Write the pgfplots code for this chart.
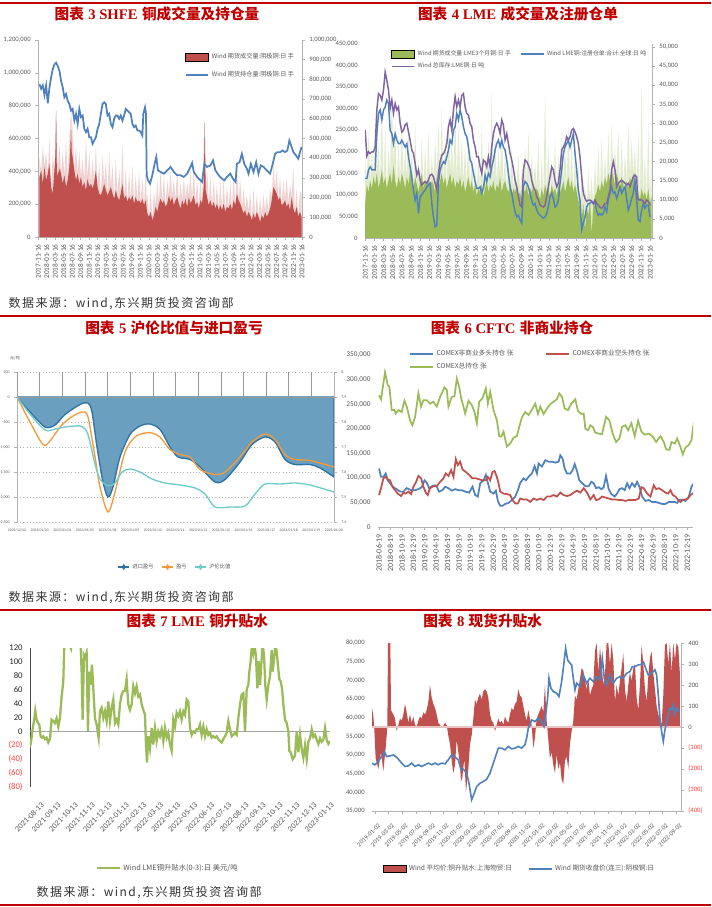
\documentclass[border=0pt]{standalone}
\usepackage{pgfplots}
\pgfplotsset{compat=1.18}
\usepackage{fontspec}
\setmainfont{Carlito}
\newfontfamily\cjk{Noto Sans CJK SC}
\newfontfamily\cjksp{Noto Sans CJK SC}[LetterSpace=12]
\newfontfamily\tnr{Liberation Serif}
\definecolor{tred}{HTML}{C00000}
\definecolor{tgray}{HTML}{595959}
\definecolor{negred}{HTML}{FF4040}
\definecolor{xred}{HTML}{C0504D}
\definecolor{xblue}{HTML}{4F81BD}
\definecolor{xgreen}{HTML}{9BBB59}
\definecolor{xpurple}{HTML}{8064A2}
\definecolor{p3fill}{HTML}{6A9FC0}
\definecolor{p3line}{HTML}{2F72A3}
\definecolor{p3orange}{HTML}{F39B3A}
\definecolor{p3teal}{HTML}{6FCBC9}
\newcommand{\ttl}[3]{{\cjk\bfseries #1}\hspace{0.3em}{\tnr\bfseries #2}\hspace{0.3em}{\cjk\bfseries #3}}
\newcommand{\src}{{\cjksp 数据来源：wind,东兴期货投资咨询部}}
\pgfplotsset{
  base/.style={scale only axis, anchor=south west,
    /pgf/number format/fixed,
    /pgf/number format/assume math mode=true,
    /pgf/number format/1000 sep={,},
    scaled ticks=false, tick align=outside, major tick length=2pt,
    every tick/.style={gray!60, line width=0.4pt},
    axis line style={gray!60, line width=0.5pt},
    tick label style={text=tgray},
    legend cell align=left},
}
\begin{document}
\begin{tikzpicture}
\useasboundingbox (0,0) rectangle (533.25pt,-680.25pt);
\fill[white] (0,0) rectangle (533.25pt,-680.25pt);
% separators
\draw[tred, line width=1.5pt] (0,-2.25pt) -- (533.25pt,-2.25pt);
\draw[tred, line width=1.5pt] (0,-237pt) -- (533.25pt,-237pt);
\draw[tred, line width=1.5pt] (0,-457.5pt) -- (533.25pt,-457.5pt);
\draw[tred, line width=1.5pt] (0,-678.5pt) -- (533.25pt,-678.5pt);
% titles
\node[tred, font=\fontsize{11}{12}\selectfont] at (117.75pt,-10.5pt) {\ttl{图表}{3 SHFE}{铜成交量及持仓量}};
\node[tred, font=\fontsize{11}{12}\selectfont] at (388.5pt,-10.5pt) {\ttl{图表}{4 LME}{成交量及注册仓单}};
\node[tred, font=\fontsize{11}{12}\selectfont] at (130.5pt,-246pt) {\ttl{图表}{5}{沪伦比值与进口盈亏}};
\node[tred, font=\fontsize{11}{12}\selectfont] at (384pt,-246pt) {\ttl{图表}{6 CFTC}{非商业持仓}};
\node[tred, font=\fontsize{11}{12}\selectfont] at (148pt,-465.75pt) {\ttl{图表}{7 LME}{铜升贴水}};
\node[tred, font=\fontsize{11}{12}\selectfont] at (362pt,-465.75pt) {\ttl{图表}{8}{现货升贴水}};
% sources
\node[anchor=west, font=\fontsize{9}{10}\selectfont, text=black!80] at (3pt,-228pt) {\src};
\node[anchor=west, font=\fontsize{9}{10}\selectfont, text=black!80] at (3pt,-448.5pt) {\src};
\node[anchor=west, font=\fontsize{9}{10}\selectfont, text=black!80] at (24pt,-669.75pt) {\src};

%================ PANEL 1 =================
\begin{axis}[base, at={(28.5pt,-177.75pt)}, width=198pt, height=147.75pt,
  xmin=-0.02, xmax=31, ymin=0, ymax=1200000,
  axis x line*=bottom, axis y line*=left,
  ytick={0,200000,400000,600000,800000,1000000,1200000},
  xtick={0,...,31},
  xticklabels={2017-11-16,2018-01-16,2018-03-16,2018-05-16,2018-07-16,2018-09-16,2018-11-16,2019-01-16,2019-03-16,2019-05-16,2019-07-16,2019-09-16,2019-11-16,2020-01-16,2020-03-16,2020-05-16,2020-07-16,2020-09-16,2020-11-16,2021-01-16,2021-03-16,2021-05-16,2021-07-16,2021-09-16,2021-11-16,2022-01-16,2022-03-16,2022-05-16,2022-07-16,2022-09-16,2022-11-16,2023-01-16},
  xticklabel style={rotate=90, anchor=east, font=\fontsize{5.5}{6}\selectfont},
  yticklabel style={font=\fontsize{5}{6}\selectfont},
  legend style={at={(0.54,0.96)}, anchor=north west, draw=none, fill=none,
     font=\cjk\fontsize{4.6}{6}\selectfont, text=tgray, row sep=4pt},
]
\addplot[fill=xred!25, draw=none, forget plot] table[x expr=(\thisrow{x}/3-37)/8.55, y expr=\thisrow{y}*1000] {
x y
115 480
120 400
125 560
130 430
135 520
140 390
145 600
150 310
155 500
160 400
165 800
170 420
175 560
180 390
185 520
190 380
195 600
200 350
205 650
208 430
210 900
212 500
215 700
220 410
225 560
230 390
235 520
240 370
245 480
250 340
255 600
260 360
265 520
270 330
275 480
280 340
285 560
290 310
295 450
300 260
305 500
310 330
315 460
320 260
325 520
330 310
335 440
340 240
345 480
350 250
355 420
360 270
365 560
370 240
375 420
380 220
385 400
390 230
395 440
400 210
405 380
410 220
415 400
420 210
425 360
430 200
435 400
438 230
440 260
445 130
450 300
455 110
460 280
465 190
470 340
475 210
480 420
485 210
490 380
495 190
500 350
505 260
510 400
515 250
520 350
525 230
530 420
535 210
540 330
545 230
550 360
555 240
560 330
565 250
570 400
575 230
580 430
585 200
590 360
595 180
600 380
605 210
612 720
616 290
620 420
625 200
630 380
635 190
640 350
645 180
650 330
655 170
660 340
665 170
670 360
675 160
680 320
685 180
690 340
695 170
700 380
705 200
710 420
715 230
720 350
725 180
730 300
735 170
740 260
745 160
750 280
755 110
760 300
765 120
770 260
775 130
780 240
785 140
790 260
795 160
800 250
805 150
810 300
815 230
820 450
825 290
830 420
835 230
840 380
845 200
850 350
855 230
860 360
865 210
870 320
875 250
880 420
885 150
890 300
895 130
900 280
905 260
} \closedcycle;
\addplot[fill=xred, draw=none, area legend] table[x expr=(\thisrow{x}/3-37)/8.55, y expr=\thisrow{y}*1000] {
x y
115 366
120 406
125 325
130 427
135 345
140 386
145 446
150 305
155 264
160 406
163 500
165 770
167 450
168 366
175 416
180 386
185 325
190 376
195 305
200 345
205 427
208 550
210 720
212 520
215 487
220 406
225 345
230 386
235 325
240 366
245 305
250 335
255 285
260 355
265 305
270 325
275 295
280 335
285 406
290 305
295 264
300 254
305 285
310 325
315 285
320 254
325 275
330 305
335 264
340 234
345 285
350 244
355 224
360 264
365 325
370 234
375 254
380 214
385 244
390 224
395 254
400 204
405 244
410 214
415 224
420 204
425 234
430 194
435 224
440 143
445 123
450 153
455 103
460 133
465 184
470 153
475 204
480 234
485 204
490 224
495 184
500 204
505 254
510 214
515 244
520 194
525 224
530 244
535 204
540 173
545 224
550 194
555 234
560 184
565 244
570 204
575 224
580 254
585 194
590 214
595 173
600 224
605 204
610 305
613 699
616 285
620 244
625 194
630 224
635 184
640 214
645 173
650 204
655 163
660 194
665 163
670 204
675 153
680 184
685 173
690 204
695 163
700 224
705 194
710 264
715 224
720 204
725 173
730 143
735 163
740 123
745 153
750 133
755 103
760 143
765 113
770 153
775 123
780 93
785 133
790 113
795 153
800 123
805 143
810 173
815 224
820 305
825 285
830 264
835 224
840 244
845 194
850 204
855 224
860 184
865 204
870 163
875 244
880 173
885 143
890 184
895 123
900 153
905 123
} \closedcycle;
\addlegendentry{Wind 期货成交量:阴极铜:日 手}
\addplot[xblue, line width=1.3pt] table[x expr=(\thisrow{x}/3-37)/8.55, y expr=\thisrow{y}*1000] {
x y
115 931
120 903
125 923
130 865
135 923
140 814
145 910
150 972
155 1022
160 1052
165 1062
170 1042
175 1012
180 952
185 911
190 851
195 871
200 830
205 810
210 770
215 780
220 709
225 750
230 689
235 780
240 730
245 740
250 659
255 639
260 659
265 608
270 608
275 568
280 588
285 608
290 659
295 689
300 750
305 810
310 820
315 810
320 740
325 750
330 689
335 669
340 720
345 740
350 740
355 720
360 740
365 709
370 740
375 780
380 770
385 760
390 750
395 689
400 669
405 679
410 649
415 649
420 639
425 618
428 750
433 790
436 750
438 376
442 345
448 325
455 376
462 446
467 487
472 406
480 396
490 386
500 406
510 427
520 396
530 376
540 376
550 366
560 386
570 427
575 451
580 396
590 366
600 345
605 335
612 446
620 427
630 436
638 467
645 406
655 376
665 355
672 345
680 366
690 386
698 355
706 335
710 446
718 456
725 507
732 446
740 416
745 386
752 446
760 396
768 456
775 386
782 436
790 427
800 406
810 386
818 446
825 507
832 517
840 517
848 527
855 517
862 527
868 588
875 548
880 517
888 497
895 477
900 517
905 548
};
\addlegendentry{Wind 期货持仓量:阴极铜:日 手}
\end{axis}
\begin{axis}[base, at={(28.5pt,-177.75pt)}, width=198pt, height=147.75pt,
  xmin=-0.02, xmax=31, ymin=0, ymax=1000000,
  axis y line*=right, axis x line=none,
  ytick={0,100000,200000,300000,400000,500000,600000,700000,800000,900000,1000000},
  yticklabel style={font=\fontsize{5}{6}\selectfont}]
\end{axis}

%================ PANEL 2 =================
\begin{axis}[base, at={(273.75pt,-178.5pt)}, width=215.25pt, height=145.5pt,
  xmin=-0.02, xmax=31.2, ymin=0, ymax=50785,
  axis y line*=right, axis x line=none,
  ytick={0,5000,10000,15000,20000,25000,30000,35000,40000,45000,50000},
  yticklabel style={font=\fontsize{5}{6}\selectfont}]
\addplot[fill=xgreen!30, draw=none] table[x expr=(\thisrow{x}/3-10)/9.2, y expr=\thisrow{y}*1000] {
x y
30 20
35 14
40 28
45 15
50 22
55 16
60 30
65 17
70 25
75 15
80 35
85 14
90 28
95 13
100 24
105 17
110 38
115 19
120 30
125 13
130 26
135 14
140 32
145 15
150 24
155 16
160 28
165 18
170 22
175 13
180 30
185 14
190 20
195 15
200 26
205 13
210 24
215 14
220 28
225 13
230 22
235 14
240 26
245 16
250 30
255 15
260 34
265 14
270 28
275 13
280 32
285 17
290 26
295 16
300 36
305 15
310 30
315 16
320 26
325 15
330 24
335 14
340 28
345 13
350 22
355 12
360 20
365 11
370 24
375 12
380 30
385 11
390 22
395 15
400 26
405 14
410 38
415 15
420 28
425 14
430 24
435 16
440 30
445 14
450 22
455 13
460 20
465 14
470 24
475 13
480 18
485 14
490 22
495 12
500 18
505 13
510 24
515 14
520 28
525 13
530 22
535 14
540 20
545 13
550 26
555 10
560 22
565 11
570 38
575 12
580 24
585 11
590 20
595 12
600 26
605 11
610 22
615 12
620 28
625 15
630 24
635 14
640 30
645 13
650 26
655 12
660 22
665 12
670 20
675 8
680 16
685 9
690 14
695 8
700 18
705 10
710 16
715 9
720 20
725 12
730 24
735 12
740 26
745 13
750 22
755 14
760 28
765 15
770 30
775 16
780 24
785 17
790 28
795 13
800 26
805 14
810 22
815 15
820 30
825 16
830 26
835 17
840 24
845 13
850 28
855 10
860 40
865 11
870 22
875 10
880 30
885 9
890 24
} \closedcycle;
\addplot[fill=xgreen, draw=none] table[x expr=(\thisrow{x}/3-10)/9.2, y expr=\thisrow{y}*1000] {
x y
30 9
35 14
40 12
45 15
50 13
55 16
60 14
65 17
70 13
75 15
80 18
85 14
90 16
95 13
100 15
105 17
110 14
115 19
120 15
125 13
130 16
135 14
140 17
145 15
150 13
155 16
160 14
165 18
170 15
175 13
180 16
185 14
190 12
195 15
200 17
205 13
210 15
215 14
220 16
225 13
230 15
235 14
240 12
245 16
250 13
255 15
260 17
265 14
270 16
275 13
280 15
285 17
290 14
295 16
300 13
305 15
310 14
315 16
320 13
325 15
330 12
335 14
340 16
345 13
350 15
355 12
360 14
365 11
370 13
375 12
380 14
385 11
390 13
395 15
400 12
405 14
410 13
415 15
420 12
425 14
430 13
435 16
440 12
445 14
450 15
455 13
460 12
465 14
470 11
475 13
480 12
485 14
490 11
495 12
500 10
505 13
510 12
515 14
520 11
525 13
530 12
535 14
540 11
545 13
550 12
555 10
560 13
565 11
570 14
575 12
580 13
585 11
590 14
595 12
600 13
605 11
610 14
615 12
620 13
625 15
630 12
635 14
640 16
645 13
650 15
655 12
660 14
665 12
670 10
675 8
680 5
685 9
690 2
695 8
700 6
705 10
710 1
715 9
720 11
725 12
730 14
735 12
740 15
745 13
750 16
755 14
760 17
765 15
770 18
775 16
780 14
785 17
790 15
795 13
800 16
805 14
810 12
815 15
820 13
825 16
830 14
835 17
840 15
845 13
850 12
855 10
860 13
865 11
870 12
875 10
880 13
885 9
890 11
} \closedcycle;
\end{axis}
\begin{axis}[base, at={(273.75pt,-178.5pt)}, width=215.25pt, height=145.5pt,
  xmin=-0.02, xmax=31.2, ymin=0, ymax=450000,
  axis x line*=bottom, axis y line*=left,
  y axis line style={draw=none}, ytick style={draw=none},
  ytick={0,50000,100000,150000,200000,250000,300000,350000,400000,450000},
  xtick={0,...,31},
  xticklabels={2017-11-16,2018-01-16,2018-03-16,2018-05-16,2018-07-16,2018-09-16,2018-11-16,2019-01-16,2019-03-16,2019-05-16,2019-07-16,2019-09-16,2019-11-16,2020-01-16,2020-03-16,2020-05-16,2020-07-16,2020-09-16,2020-11-16,2021-01-16,2021-03-16,2021-05-16,2021-07-16,2021-09-16,2021-11-16,2022-01-16,2022-03-16,2022-05-16,2022-07-16,2022-09-16,2022-11-16,2023-01-16},
  xticklabel style={rotate=90, anchor=east, font=\fontsize{5.5}{6}\selectfont},
  yticklabel style={font=\fontsize{5}{6}\selectfont},
  legend columns=2,
  legend style={at={(0.075,0.995)}, anchor=north west, draw=none, fill=none,
     font=\cjk\fontsize{4.4}{5.5}\selectfont, text=tgray, /tikz/every even column/.append style={column sep=5pt}},
]
\addlegendimage{area legend, fill=xgreen, draw=none}
\addlegendentry{Wind 期货成交量:LME3个月铜:日 手}
\addplot[xblue, line width=1.1pt] table[x expr=(\thisrow{x}/3-10)/9.2, y expr=\thisrow{y}*1000] {
x y
30 138
35 138
40 158
45 165
50 158
55 158
60 158
65 242
70 289
75 297
80 274
85 297
90 304
95 320
100 312
105 250
110 242
115 219
120 242
125 227
130 219
135 219
140 227
145 219
150 211
155 219
160 188
165 165
170 142
175 111
180 88
185 104
190 57
195 96
200 100
205 107
210 111
215 119
220 123
225 127
230 80
235 49
240 26
245 30
250 127
255 158
260 169
265 177
270 173
275 188
280 204
285 227
290 219
295 250
300 258
305 289
310 274
315 297
320 281
325 258
330 242
335 235
340 211
345 181
350 173
355 150
360 131
365 115
370 115
375 119
380 104
385 115
390 146
395 131
400 150
405 142
410 165
415 181
420 204
425 219
430 227
435 211
440 227
445 211
450 204
455 181
460 150
465 119
470 104
475 80
480 61
485 49
490 53
495 42
500 34
505 119
510 131
515 127
520 119
525 104
530 88
535 76
540 80
545 65
550 57
555 53
560 49
565 46
570 49
575 57
580 72
585 96
590 104
595 92
600 72
605 76
610 88
615 127
620 158
625 196
630 211
635 219
640 227
645 211
650 227
655 242
660 196
665 158
670 111
675 88
680 19
685 34
690 49
695 72
700 80
705 80
710 85
715 80
720 85
725 61
730 53
735 57
740 53
745 57
750 72
755 61
760 88
765 104
770 119
775 104
780 107
785 92
790 104
795 119
800 104
805 111
810 119
815 92
820 65
825 76
830 92
835 104
840 134
845 88
850 42
855 38
860 65
865 80
870 69
875 76
880 76
885 49
};
\addlegendentry{Wind LME铜:注册仓单:合计:全球:日 吨}
\addplot[xpurple, line width=1.1pt] table[x expr=(\thisrow{x}/3-10)/9.2, y expr=\thisrow{y}*1000] {
x y
30 250
35 190
40 200
45 196
50 200
55 200
60 211
65 297
70 335
75 331
80 320
85 343
90 385
95 366
100 343
105 301
110 320
115 289
120 312
125 297
130 304
135 266
140 246
145 250
150 262
155 266
160 246
165 227
170 204
175 196
180 173
185 146
190 158
195 134
200 123
205 127
210 131
215 127
220 134
225 146
230 148
235 142
240 127
245 111
250 150
255 177
260 192
265 196
270 204
275 219
280 258
285 274
290 250
295 297
300 328
305 304
310 320
315 304
320 331
325 335
330 304
335 289
340 285
345 266
350 258
355 227
360 211
365 188
370 188
375 165
380 150
385 181
390 177
395 165
400 188
405 165
410 211
415 242
420 258
425 266
430 258
435 242
440 274
445 262
450 227
455 242
460 219
465 196
470 181
475 161
480 134
485 119
490 96
495 76
500 72
505 158
510 181
515 177
520 169
525 158
530 134
535 119
540 111
545 96
550 88
555 76
560 74
565 72
570 76
575 96
580 119
585 142
590 165
595 158
600 134
605 119
610 127
615 158
620 204
625 211
630 219
635 235
640 227
645 235
650 250
655 254
660 246
665 235
670 219
675 188
680 142
685 104
690 92
695 85
700 88
705 88
710 85
715 80
720 88
725 80
730 76
735 71
740 69
745 74
750 80
755 80
760 96
765 111
770 158
775 177
780 158
785 119
790 127
795 131
800 134
805 131
810 127
815 123
820 127
825 119
830 131
835 142
840 146
845 142
848 92
852 88
858 89
865 85
870 80
875 88
880 85
885 76
};
\addlegendentry{Wind 总库存:LME铜:日 吨}
\end{axis}

%================ PANEL 3 =================
\begin{axis}[base, at={(12.75pt,-391.5pt)}, width=237.75pt, height=112.5pt,
  xmin=0, xmax=14, ymin=-2500, ymax=500,
  axis x line*=bottom, axis y line*=left,
  x axis line style={draw=none}, xtick style={draw=none},
  ytick={-2500,-2000,-1500,-1000,-500,0,500},
  ymajorgrids, major grid style={dotted, gray!60},
  xtick={0,...,14},
  xticklabels={2022/12/30,2023/01/03,2023/01/04,2023/01/05,2023/01/06,2023/01/09,2023/01/10,2023/01/11,2023/01/12,2023/01/13,2023/01/16,2023/01/17,2023/01/18,2023/01/19,2023/01/20},
  xticklabel style={font=\fontsize{2.8}{3}\selectfont},
  yticklabel style={font=\fontsize{3}{3.5}\selectfont},
  legend columns=3,
  legend style={at={(0.5,-0.3)}, anchor=center, draw=none, fill=none,
     font=\cjk\fontsize{4}{5}\selectfont, text=tgray, /tikz/every even column/.append style={column sep=4pt}},
  legend image code/.code={\draw[#1] (0pt,0pt) -- (8pt,0pt); \draw[#1, mark=diamond*, mark size=1.6pt] plot coordinates {(4pt,0pt)};},
]
\addlegendimage{p3line, line width=0.8pt, fill=p3line}
\addlegendentry{进口盈亏}
\addlegendimage{p3orange, line width=0.8pt, fill=p3orange}
\addlegendentry{盈亏}
\addlegendimage{p3teal, line width=0.8pt, fill=p3teal}
\addlegendentry{沪伦比值}
\addplot[fill=p3fill, draw=p3line, line width=1pt, smooth, forget plot] table[x expr=(\thisrow{x}-17)/22.64, y=y] {
x y
17 0
30 -300
45 -600
55 -560
65 -350
80 -150
88 -120
92 -300
97 -1000
103 -1700
108 -2000
113 -1800
120 -1200
130 -750
140 -580
150 -540
160 -650
170 -1000
178 -1200
190 -1250
200 -1400
215 -1700
225 -1650
240 -1300
252 -950
265 -800
275 -900
285 -1250
295 -1350
310 -1350
320 -1420
334 -1600
} \closedcycle;
\addplot[p3orange, line width=1pt, smooth, forget plot] table[x expr=(\thisrow{x}-17)/22.64, y=y] {
x y
17 0
30 -500
43 -950
50 -880
60 -600
70 -420
82 -300
88 -400
95 -1200
100 -1800
108 -2300
115 -1900
125 -1100
135 -800
145 -720
152 -720
160 -800
170 -1050
180 -1150
190 -1200
200 -1450
215 -1550
225 -1500
240 -1200
252 -900
265 -740
275 -850
285 -1150
295 -1250
310 -1270
334 -1400
};
\draw[gray!80, line width=0.6pt] (axis cs:0,0) -- (axis cs:14,0);
\pgfplotsinvokeforeach{0,...,14}{\draw[gray!80, line width=0.4pt] (axis cs:#1,0) -- ++(0,1.5pt);}
\end{axis}
\begin{axis}[base, at={(12.75pt,-391.5pt)}, width=237.75pt, height=112.5pt,
  xmin=0, xmax=14, ymin=7.4, ymax=8.0,
  axis y line*=right, axis x line=none,
  ytick={7.4,7.5,7.6,7.7,7.8,7.9,8.0},
  yticklabel style={font=\fontsize{3}{3.5}\selectfont}]
\addplot[p3teal, line width=1pt, smooth] table[x expr=(\thisrow{x}-17)/22.64, y=y] {
x y
17 7.9
30 7.832
45 7.768
55 7.772
65 7.78
75 7.784
82 7.782
88 7.75
95 7.632
100 7.572
108 7.544
115 7.556
122 7.6
130 7.612
140 7.6
152 7.572
165 7.556
180 7.548
195 7.536
205 7.512
215 7.46
230 7.46
245 7.464
255 7.512
265 7.552
280 7.552
295 7.556
310 7.548
334 7.52
};
\end{axis}
\node[font=\cjk\fontsize{3}{4}\selectfont, text=tgray] at (11.25pt,-268.5pt) {元/吨};

%================ PANEL 4 =================
\begin{axis}[base, at={(283.5pt,-395.25pt)}, width=236.25pt, height=129pt,
  xmin=-0.09, xmax=27.5, ymin=0, ymax=350000,
  axis x line*=bottom, axis y line*=left,
  y axis line style={draw=none}, ytick style={draw=none},
  ytick={0,50000,100000,150000,200000,250000,300000,350000},
  xtick={0,...,27},
  xticklabels={2018-06-19,2018-08-19,2018-10-19,2018-12-19,2019-02-19,2019-04-19,2019-06-19,2019-08-19,2019-10-19,2019-12-19,2020-02-19,2020-04-19,2020-06-19,2020-08-19,2020-10-19,2020-12-19,2021-02-19,2021-04-19,2021-06-19,2021-08-19,2021-10-19,2021-12-19,2022-02-19,2022-04-19,2022-06-19,2022-08-19,2022-10-19,2022-12-19},
  xticklabel style={rotate=90, anchor=east, font=\fontsize{6}{7}\selectfont},
  yticklabel style={font=\fontsize{5.5}{6}\selectfont},
  legend columns=2,
  legend style={at={(0.086,1.06)}, anchor=north west, draw=none, fill=none,
     font=\cjk\fontsize{5}{6.5}\selectfont, text=tgray, /tikz/every even column/.append style={column sep=22pt}},
]
\addplot[xblue, line width=1.3pt] table[x expr=(\thisrow{x}-72)/34.2, y expr=\thisrow{y}*1000] {
x y
72 119
78 102
85 102
92 109
98 95
105 89
115 81
125 77
135 72
145 72
155 79
162 77
170 74
180 75
190 77
200 81
208 95
215 90
222 79
230 83
240 85
245 82
252 72
262 75
270 82
280 79
290 74
300 77
310 75
320 75
330 72
342 70
352 82
360 65
368 62
375 89
385 95
392 106
398 90
405 72
415 68
422 74
428 53
435 43
442 43
450 47
460 49
470 55
480 62
488 75
495 90
505 99
512 95
520 102
530 109
538 124
545 109
550 129
560 123
570 136
580 133
590 133
600 131
610 133
615 146
622 139
628 119
635 109
645 109
652 116
658 128
665 114
672 95
680 90
690 83
700 83
708 92
715 89
722 79
730 81
738 77
745 81
752 104
760 77
768 67
778 62
785 68
792 77
800 79
808 75
815 89
822 79
830 89
838 82
845 92
852 82
860 62
870 53
880 55
890 51
900 51
910 49
920 47
930 47
940 51
950 51
958 51
965 49
972 55
980 56
990 53
1000 62
1008 82
1015 89
};
\addlegendentry{COMEX非商业多头持仓 张}
\addplot[xred, line width=1.3pt] table[x expr=(\thisrow{x}-72)/34.2, y expr=\thisrow{y}*1000] {
x y
72 65
78 79
85 99
92 102
98 97
105 95
112 82
120 75
128 68
138 63
145 70
152 68
160 72
168 67
175 82
182 90
190 104
198 99
205 82
212 70
218 65
225 79
235 83
245 83
255 92
265 99
272 109
280 104
288 116
295 102
302 138
308 126
315 133
322 117
332 112
342 106
352 99
362 99
372 97
382 95
392 95
398 102
405 95
412 112
418 114
425 102
430 89
435 72
445 68
455 67
465 65
472 55
480 48
488 48
495 58
505 56
515 56
525 51
535 58
545 55
555 58
565 55
575 62
585 62
595 65
605 62
615 70
625 65
635 63
645 65
655 70
665 74
675 70
685 79
695 70
705 56
715 65
722 55
730 56
740 62
750 60
760 58
770 56
780 56
790 55
800 55
810 53
820 55
830 55
840 55
850 58
858 81
865 79
875 68
885 62
895 85
902 77
910 79
920 75
930 70
938 68
945 75
952 65
960 62
968 55
975 51
982 55
990 56
998 58
1005 65
1015 70
};
\addlegendentry{COMEX非商业空头持仓 张}
\addplot[xgreen, line width=1.3pt] table[x expr=(\thisrow{x}-72)/34.2, y expr=\thisrow{y}*1000] {
x y
72 268
78 260
90 315
98 289
103 285
110 238
118 238
122 231
130 238
140 234
148 257
155 245
165 217
172 207
180 224
190 272
198 245
205 258
215 258
225 251
235 255
245 245
255 265
268 284
275 279
280 245
290 265
298 266
305 302
312 285
318 262
325 245
330 231
340 257
350 248
358 234
365 211
372 255
382 262
392 282
398 251
405 275
415 238
425 217
432 185
438 184
445 194
455 164
465 170
475 182
485 185
492 204
500 223
510 234
520 228
530 239
540 251
548 230
555 245
565 230
575 241
585 250
595 255
605 260
612 272
620 265
628 241
638 238
648 251
660 260
668 236
678 230
685 231
690 200
698 197
705 207
712 204
720 192
730 190
740 189
752 224
762 217
772 190
782 173
792 180
800 204
810 207
818 197
828 211
838 185
848 216
858 194
868 188
880 190
892 184
902 173
915 185
925 173
932 158
942 157
948 173
958 170
965 180
975 163
982 148
990 162
1000 167
1008 177
1015 214
};
\addlegendentry{COMEX总持仓 张}
\end{axis}

%================ PANEL 5 =================
\begin{axis}[base, at={(22.5pt,-590.25pt)}, width=225pt, height=104.25pt,
  xmin=-0.29, xmax=17.29, ymin=-80, ymax=120,
  axis x line*=bottom, axis y line*=left,
  x axis line style={draw=none}, xtick style={draw=none}, ytick style={draw=none},
  y axis line style={black!70, line width=0.6pt},
  ytick={-80,-60,-40,-20,0,20,40,60,80,100,120},
  yticklabels={\textcolor{negred}{(80)},\textcolor{negred}{(60)},\textcolor{negred}{(40)},\textcolor{negred}{(20)},0,20,40,60,80,100,120},
  xtick={0,...,17},
  xticklabels={2021-08-13,2021-09-13,2021-10-13,2021-11-13,2021-12-13,2022-01-13,2022-02-13,2022-03-13,2022-04-13,2022-05-13,2022-06-13,2022-07-13,2022-08-13,2022-09-13,2022-10-13,2022-11-13,2022-12-13,2023-01-13},
  xticklabel style={rotate=45, anchor=north east, font=\fontsize{6}{7}\selectfont, yshift=-6pt},
  yticklabel style={font=\fontsize{6.5}{7}\selectfont, text=black!85},
  legend style={at={(0.46,-0.583)}, anchor=center, draw=none, fill=none,
     font=\cjk\fontsize{5.5}{6.5}\selectfont, text=tgray},
]
\draw[gray!70, line width=0.8pt] (axis cs:-0.29,0) -- (axis cs:17.29,0);
\addplot[xgreen, line width=1.7pt] table[x expr=(\thisrow{x}/3-35)/17.06, y=y] {
x y
88 -23.5
92 -18.7
95 -9
98 3
102 15
106 30
110 17
114 12
118 10
122 -7
126 -9
130 -7
135 -11
140 -9
145 -16
150 -11
155 17
160 15
165 12
170 19
175 7
180 19
185 50
190 72
193 125
198 160
205 150
210 122
213 119
218 150
230 150
240 150
245 86
248 17
252 110
256 106
260 113
264 0
268 86
272 67
276 96
280 62
285 19
290 10
296 -9
300 29
305 34
310 19
315 29
320 15
325 43
330 15
335 34
340 46
345 12
350 17
355 10
360 39
365 53
370 58
375 58
380 75
385 39
390 31
395 39
400 65
405 55
410 65
415 50
420 53
425 39
430 31
435 24
438 -19
441 -45
445 -7
450 -24
455 5
460 -19
465 5
470 -14
475 0
480 -7
485 3
490 -14
495 5
500 -9
505 -2
510 -19
515 -28
520 17
525 7
530 27
535 22
540 29
545 17
550 29
555 24
560 46
565 43
570 5
575 -5
580 0
585 -2
590 3
595 3
600 10
605 -5
610 7
615 -7
620 3
625 -5
630 -2
635 -9
640 -7
645 -9
650 -7
655 -11
660 -14
665 -16
670 -11
675 -7
680 -2
685 15
690 3
695 -7
700 -5
705 -2
710 -5
715 19
720 39
725 53
730 55
735 0
740 60
745 67
748 86
752 101
756 125
760 113
764 125
768 106
772 62
776 101
780 67
784 98
788 125
792 110
796 65
800 46
805 67
810 79
815 117
818 86
822 103
826 125
830 115
834 94
838 75
842 72
846 62
850 39
855 17
860 12
865 0
868 -28
872 -30
878 -40
885 -35
890 0
895 -30
900 -5
905 -25
910 -38
915 -20
920 -40
925 -15
930 -10
935 3
940 -8
945 -5
950 -12
955 -18
960 -10
965 -15
970 -12
975 5
980 -12
985 -18
990 -14
};
\addlegendentry{Wind LME铜升贴水(0-3):日 美元/吨}
\end{axis}

%================ PANEL 6 =================
\begin{axis}[base, at={(279pt,-608.25pt)}, width=231.75pt, height=126pt,
  xmin=-0.22, xmax=22.34, ymin=-400, ymax=400,
  axis y line*=right, axis x line=none,
  ytick={-400,-300,-200,-100,0,100,200,300,400},
  yticklabels={\textcolor{negred}{(400)},\textcolor{negred}{(300)},\textcolor{negred}{(200)},\textcolor{negred}{(100)},0,100,200,300,400},
  yticklabel style={font=\fontsize{5}{6}\selectfont}]
\addplot[fill=xred, draw=none] table[x expr=(\thisrow{x}/3-20)/13.7, y=y] {
x y
50 100
55 52
58 -11
62 -150
70 -200
78 -120
85 -210
92 -100
97 0
99 400
106 400
108 80
115 60
120 40
125 -20
130 10
135 40
140 30
145 60
150 110
155 70
160 20
165 60
170 20
175 50
180 10
185 0
190 30
195 50
200 40
205 70
210 60
215 80
220 120
225 200
230 140
235 110
240 90
245 60
250 20
255 10
260 -5
265 5
270 20
275 10
280 -40
285 -80
290 -160
295 -220
300 -180
305 -60
310 -120
315 -180
318 -260
322 -240
328 -150
333 -310
340 -200
345 -80
350 -40
355 40
360 130
365 110
370 140
375 160
380 130
385 170
390 180
395 170
400 140
405 60
410 30
415 20
420 -20
425 10
430 40
435 20
440 30
445 10
450 50
455 30
460 20
465 60
470 90
475 80
480 110
485 120
490 180
495 150
500 140
505 100
510 60
515 30
520 80
525 40
530 10
535 -100
540 -50
545 40
550 60
555 80
560 100
565 70
570 200
575 30
580 -60
585 -150
590 -120
595 -180
600 -220
605 -130
610 -200
615 -170
620 -250
625 -270
630 -160
635 -140
640 -200
645 -80
650 -20
655 30
660 150
665 130
670 180
675 230
680 280
685 270
690 220
695 180
700 230
705 150
710 180
715 200
720 360
725 400
730 260
735 380
740 300
745 200
750 250
755 400
760 400
765 300
770 400
775 320
780 120
785 200
790 150
795 220
800 280
805 350
810 180
815 120
820 200
825 260
830 220
835 280
840 300
845 140
850 80
855 200
860 390
865 300
870 180
875 120
880 240
885 330
890 360
895 260
900 180
905 100
910 60
915 30
920 10
925 150
930 390
935 400
940 300
945 400
950 260
955 400
960 320
965 400
970 380
975 250
} \closedcycle;
\draw[xred!35, line width=0.8pt] (axis cs:-0.22,0) -- (axis cs:22.34,0);
\end{axis}
\begin{axis}[base, at={(279pt,-608.25pt)}, width=231.75pt, height=126pt,
  xmin=-0.22, xmax=22.34, ymin=35000, ymax=80000,
  axis x line*=bottom, axis y line*=left,
  y axis line style={draw=none}, ytick style={draw=none},
  ytick={35000,40000,45000,50000,55000,60000,65000,70000,75000,80000},
  xtick={0,...,22},
  xticklabels={2019-01-02,2019-03-02,2019-05-02,2019-07-02,2019-09-02,2019-11-02,2020-01-02,2020-03-02,2020-05-02,2020-07-02,2020-09-02,2020-11-02,2021-01-02,2021-03-02,2021-05-02,2021-07-02,2021-09-02,2021-11-02,2022-01-02,2022-03-02,2022-05-02,2022-07-02,2022-09-02},
  xticklabel style={rotate=45, anchor=north east, font=\fontsize{4.8}{5}\selectfont, yshift=-3pt},
  yticklabel style={font=\fontsize{5}{6}\selectfont},
  legend columns=2,
  legend style={at={(0.479,-0.345)}, anchor=center, draw=none, fill=none,
     font=\cjk\fontsize{5}{6}\selectfont, text=tgray, /tikz/every even column/.append style={column sep=10pt}},
]
\addlegendimage{area legend, fill=xred, draw=none}
\addlegendentry{Wind 平均价:铜升贴水:上海物贸:日}
\addplot[xblue, line width=1.2pt] table[x expr=(\thisrow{x}/3-20)/13.7, y=y] {
x y
50 47830
60 47380
70 48270
80 49600
88 50940
95 49600
105 49780
115 50000
125 49400
140 47830
150 46930
160 47100
170 47830
180 46930
190 47380
200 46930
210 47380
220 47830
230 47380
240 47830
250 47380
260 47830
270 47650
280 48720
290 50060
300 49440
310 48720
318 46040
325 46200
335 45140
342 42460
350 38000
358 39790
365 41570
375 42460
385 42910
395 43530
405 45140
415 47830
425 50500
430 51840
440 51840
450 51400
460 52290
470 51660
480 51840
490 52290
500 51840
510 52730
515 54520
520 57190
525 58080
530 59420
540 58970
550 59870
560 58970
567 57640
572 60760
578 65220
582 70570
588 67890
595 67000
605 66560
612 65670
620 69680
625 73240
632 78590
638 75470
645 74580
650 74130
655 70570
660 67450
665 69230
675 68340
685 71460
695 69230
705 70570
715 69680
725 71020
735 70130
742 75920
748 70570
755 68780
765 71460
775 69230
785 70570
795 71020
805 70570
815 71910
825 72350
832 73690
840 73690
850 74130
860 74310
866 74850
872 73240
880 71460
890 71910
900 72800
905 71460
910 66110
915 59870
920 56300
925 53620
930 56750
938 59870
945 62540
950 62100
955 63430
960 60760
965 62540
972 61650
};
\addlegendentry{Wind 期货收盘价(连三):阴极铜:日}
\end{axis}
\end{tikzpicture}
\end{document}
